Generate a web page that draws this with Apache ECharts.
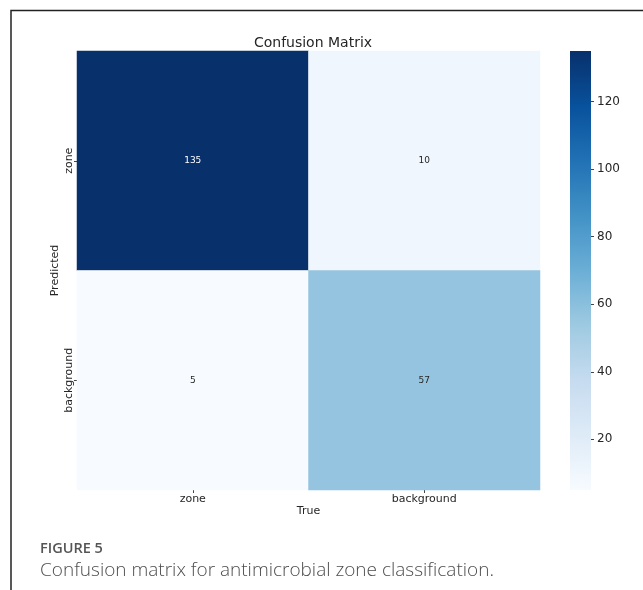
<!DOCTYPE html>
<html>
<head>
<meta charset="utf-8">
<script src="https://cdn.jsdelivr.net/npm/echarts@6/dist/echarts.min.js"></script>
<style>
  html, body { margin: 0; padding: 0; background: #fff; }
  #chart { width: 643px; height: 590px; }
</style>
</head>
<body>
<div id="chart"></div>
<script>
// Class labels along each axis
const trueLabels = ['zone', 'background'];
const predictedLabels = ['zone', 'background'];
// Counts: rows = predicted class, columns = true class
const countsZone = [135, 10];
const countsBackground = [5, 57];
// Colour scale range and colour-bar tick labels
const scaleMin = 5;
const scaleMax = 135;
const colorbarTicks = [20, 40, 60, 80, 100, 120];

const counts = [countsZone, countsBackground];
const blues = ['#f7fbff', '#deebf7', '#c6dbef', '#9ecae1', '#6baed6',
               '#4292c6', '#2171b5', '#08519c', '#08306b'];
const mid = (scaleMin + scaleMax) / 2;

const cells = [];
counts.forEach((row, p) => {
  row.forEach((v, t) => {
    cells.push({
      value: [t, p, v],
      label: { color: v > mid ? '#ffffff' : '#262626' }
    });
  });
});

// Colour bar geometry
const cbLeft = 570, cbTop = 51, cbWidth = 21, cbHeight = 439;
// Gradient runs from the maximum (top) to the minimum (bottom)
const cbStops = blues.map((c, i) => ({ offset: 1 - i / (blues.length - 1), color: c }));

const font = 'DejaVu Sans';
const chart = echarts.init(document.getElementById('chart'), null, { renderer: 'canvas' });

chart.setOption({
  animation: false,
  backgroundColor: '#ffffff',
  title: {
    text: 'Confusion Matrix',
    left: 308, top: 31, textAlign: 'center',
    textStyle: { fontFamily: font, fontSize: 14, fontWeight: 'normal', color: '#262626' }
  },
  grid: [
    { left: 77, top: 51, width: 463, height: 439 },
    { left: cbLeft, top: cbTop, width: cbWidth, height: cbHeight }
  ],
  xAxis: [
    {
      type: 'category', data: trueLabels, gridIndex: 0,
      name: 'True', nameLocation: 'middle', nameGap: 16, nameMoveOverlap: false,
      nameTextStyle: { fontFamily: font, fontSize: 11, color: '#262626' },
      axisLine: { show: false },
      axisTick: { show: true, alignWithLabel: true, length: 3, lineStyle: { color: '#444' } },
      axisLabel: { fontFamily: font, fontSize: 11, color: '#262626', margin: 4 },
      splitLine: { show: false }
    },
    { type: 'value', gridIndex: 1, show: false }
  ],
  yAxis: [
    {
      type: 'category', data: predictedLabels, gridIndex: 0, inverse: true,
      name: 'Predicted', nameLocation: 'middle', nameGap: 16, nameMoveOverlap: false,
      nameTextStyle: { fontFamily: font, fontSize: 11, color: '#262626' },
      axisLine: { show: false },
      axisTick: { show: true, alignWithLabel: true, length: 3, lineStyle: { color: '#444' } },
      axisLabel: { fontFamily: font, fontSize: 11, color: '#262626', rotate: 90, margin: 2 },
      splitLine: { show: false }
    },
    {
      type: 'value', gridIndex: 1, min: scaleMin, max: scaleMax, position: 'right',
      axisLine: { show: false, onZero: false },
      splitLine: { show: false },
      axisTick: { show: true, inside: false, length: 3, customValues: colorbarTicks, lineStyle: { color: '#444' } },
      axisLabel: { fontFamily: font, fontSize: 12, color: '#262626', margin: 6, customValues: colorbarTicks }
    }
  ],
  visualMap: {
    type: 'continuous',
    show: false,
    min: scaleMin, max: scaleMax,
    seriesIndex: 0,
    inRange: { color: blues }
  },
  series: [
    {
      type: 'heatmap',
      xAxisIndex: 0, yAxisIndex: 0,
      data: cells,
      label: { show: true, fontFamily: font, fontSize: 9 },
      itemStyle: { borderWidth: 0 },
      emphasis: { disabled: true }
    }
  ],
  graphic: [
    {
      type: 'rect', z: 0,
      shape: { x: cbLeft, y: cbTop, width: cbWidth, height: cbHeight },
      style: {
        fill: new echarts.graphic.LinearGradient(0, 0, 0, 1, cbStops)
      }
    },
    {
      type: 'polyline',
      shape: { points: [[11, 590], [11, 10.5], [643, 10.5]] },
      style: { stroke: '#222', lineWidth: 1.5, fill: null }
    },
    {
      type: 'text', left: 40, top: 541,
      style: { text: 'FIGURE 5', font: '600 14.5px "Open Sans"', fill: '#555555' }
    },
    {
      type: 'text', left: 40, top: 561,
      style: { text: 'Confusion matrix for antimicrobial zone classification.', font: '300 19px "Open Sans"', fill: '#4d4d4d' }
    }
  ]
});
</script>
</body>
</html>
